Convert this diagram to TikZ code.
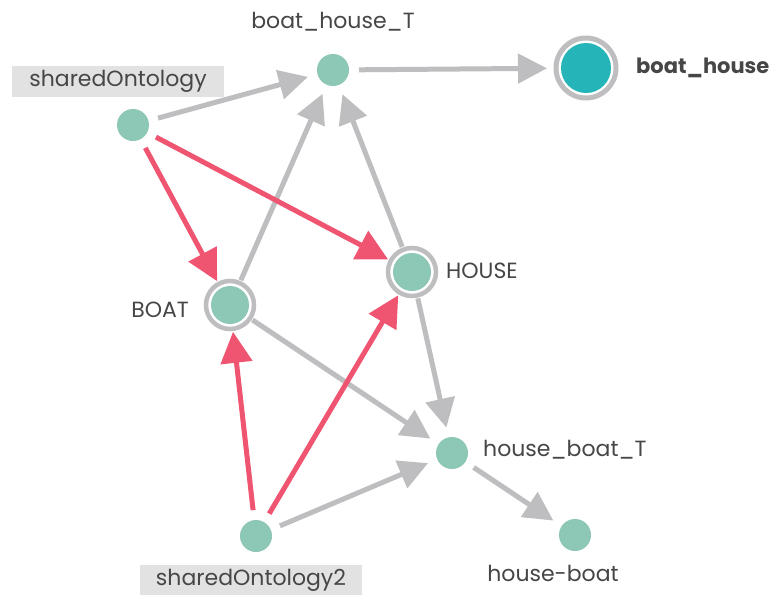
\documentclass[tikz,border=0pt]{standalone}
\usepackage{fontspec}
\setmainfont{Poppins}
\usetikzlibrary{arrows.meta}
\definecolor{nodeteal}{RGB}{141,199,182}
\definecolor{hubteal}{RGB}{37,180,184}
\definecolor{edgegray}{RGB}{190,190,192}
\definecolor{ringgray}{RGB}{190,190,192}
\definecolor{linkred}{RGB}{239,84,112}
\definecolor{labelbox}{RGB}{226,226,226}
\definecolor{txt}{RGB}{70,70,70}
\tikzset{
  every node/.style={inner sep=0pt},
  dot/.style={circle, fill=nodeteal, minimum size=32pt, outer sep=10pt},
  ringdot/.style={circle, fill=nodeteal, minimum size=38pt, outer sep=8pt},
  hubdot/.style={circle, fill=hubteal, minimum size=50pt, outer sep=14pt},
  lbl/.style={text=txt, font=\fontsize{22}{26}\selectfont},
  boxlbl/.style={lbl, fill=labelbox, minimum height=31pt},
  subarrow/.style={draw=edgegray, line width=5pt,
    -{Triangle[length=29pt,width=29pt]}},
  sharearrow/.style={draw=linkred, line width=5pt,
    -{Triangle[length=31pt,width=31pt]}},
}
\begin{document}
\begin{tikzpicture}[x=1pt,y=-1pt]
\useasboundingbox (0,0) rectangle (772,595);
\fill[white] (0,0) rectangle (772,595);

% label boxes
\node[boxlbl, minimum width=212pt] (lso) at (118,81.5) {sharedOntology};
\node[boxlbl, minimum width=222pt] (lso2) at (251,580) {sharedOntology2};

% nodes
\node[dot] (so) at (133,125) {};
\node[dot] (bhT) at (333,70) {};
\node[hubdot] (bh) at (586,68) {};
\draw[ringgray, line width=5pt] (bh.center) circle (30);
\node[ringdot] (boat) at (230,305) {};
\draw[ringgray, line width=4.5pt] (boat.center) circle (24);
\node[ringdot] (house) at (412,272) {};
\draw[ringgray, line width=4.5pt] (house.center) circle (24);
\node[dot] (hbT) at (452,453) {};
\node[dot] (so2) at (256,536) {};
\node[dot] (hb) at (575,535) {};

% text labels
\node[lbl] (lbhT) at (333,22) {boat\_house\_T};
\node[lbl, anchor=west, font=\fontsize{21}{25}\selectfont\bfseries] (lbh) at (636,68) {boat\_house};
\node[lbl, anchor=east] (lboat) at (189,310) {BOAT};
\node[lbl, anchor=west] (lhouse) at (446,271) {HOUSE};
\node[lbl, anchor=west] (lhbT) at (483,450) {house\_boat\_T};
\node[lbl] (lhb) at (553,573) {house-boat};

% subclass edges
\draw[subarrow] (so) -- (bhT);
\draw[subarrow] (bhT) -- (bh);
\draw[subarrow] (boat) -- (bhT);
\draw[subarrow] (house) -- (bhT);
\draw[subarrow] (boat) -- (hbT);
\draw[subarrow] (house) -- (hbT);
\draw[subarrow] (so2) -- (hbT);
\draw[subarrow] (hbT) -- (hb);

% ontology links
\draw[sharearrow] (so) -- (boat);
\draw[sharearrow] (so) -- (house);
\draw[sharearrow] (so2) -- (boat);
\draw[sharearrow] (so2) -- (house);
\end{tikzpicture}
\end{document}
